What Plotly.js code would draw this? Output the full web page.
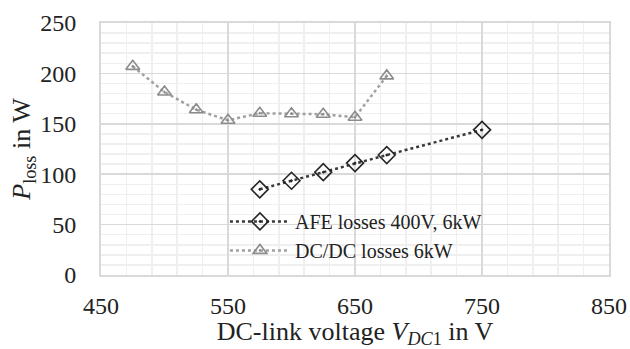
<!DOCTYPE html>
<html><head><meta charset="utf-8">
<script src="https://cdn.plot.ly/plotly-3.0.1.min.js"></script>
<style>html,body{margin:0;padding:0;background:#fff}#chart{width:630px;height:349px}</style>
</head><body><div id="chart"></div>
<script>
const afeVoltage = [575, 600, 625, 650, 675, 750];
const afeLosses = [85, 93.5, 102, 111, 119, 144];
const dcdcVoltage = [475, 500, 525, 550, 575, 600, 625, 650, 675];
const dcdcLosses = [207, 181.5, 164, 153.5, 160.5, 160, 159.5, 156.5, 197.5];
const seriesNames = ['AFE losses 400V, 6kW', 'DC/DC losses 6kW'];
const xTicks = [450, 550, 650, 750, 850];
const yTicks = [0, 50, 100, 150, 200, 250];

const font = '"Liberation Serif", serif';
const traces = [
  {x: afeVoltage, y: afeLosses, name: seriesNames[0], type: 'scatter', mode: 'lines+markers',
   line: {color: '#3a3a3a', width: 2.5, dash: 'dot'},
   marker: {symbol: 'diamond-open-dot', size: 13, color: '#262626', line: {width: 1.6, color: '#262626'}}},
  {x: dcdcVoltage, y: dcdcLosses, name: seriesNames[1], type: 'scatter', mode: 'lines+markers',
   line: {color: '#a0a0a0', width: 2.5, dash: 'dot'},
   marker: {symbol: 'triangle-up-open-dot', size: 12, color: '#8c8c8c', line: {width: 1.6, color: '#8c8c8c'}}}
];
const layout = {
  width: 630, height: 349,
  margin: {l: 101, r: 21, t: 23, b: 74},
  paper_bgcolor: '#fff', plot_bgcolor: '#fff',
  font: {family: font, color: '#222', size: 24},
  showlegend: true,
  legend: {x: 0.244, y: 0.29, xanchor: 'left', yanchor: 'top', bgcolor: 'rgba(0,0,0,0)',
           font: {family: font, size: 20, color: '#222'}, itemwidth: 60, tracegroupgap: 0},
  xaxis: {range: [450, 850], tickvals: xTicks, ticktext: xTicks.map(String), ticks: '',
          showgrid: true, gridcolor: '#d9d9d9', gridwidth: 1.5,
          minor: {dtick: 20, tick0: 450, showgrid: true, gridcolor: '#efefef', gridwidth: 1.5},
          showline: true, mirror: true, linecolor: '#d9d9d9', linewidth: 2, zeroline: false,
          ticklabelstandoff: 8, tickfont: {family: font, size: 24, color: '#222'},
          title: {text: 'DC-link voltage <i>V</i><sub><i>DC</i>1</sub> in V', font: {family: font, size: 26, color: '#222'}, standoff: 19}},
  yaxis: {range: [0, 250], tickvals: yTicks, ticktext: yTicks.map(String), ticks: '',
          showgrid: true, gridcolor: '#d9d9d9', gridwidth: 1.5,
          minor: {dtick: 10, tick0: 0, showgrid: true, gridcolor: '#efefef', gridwidth: 1.5},
          showline: true, mirror: true, linecolor: '#d9d9d9', linewidth: 2, zeroline: false,
          ticklabelstandoff: 18, tickfont: {family: font, size: 24, color: '#222'},
          title: {text: '<i>P</i><sub>loss</sub> in W', font: {family: font, size: 26, color: '#222'}, standoff: 2}},
  shapes: [{type: 'rect', xref: 'paper', yref: 'paper', x0: 0.13, x1: 0.882, y0: 0.045, y1: 0.27,
            fillcolor: '#fff', line: {width: 0}, layer: 'between'}]
};
Plotly.newPlot('chart', traces, layout, {displayModeBar: false, staticPlot: true});
</script></body></html>
